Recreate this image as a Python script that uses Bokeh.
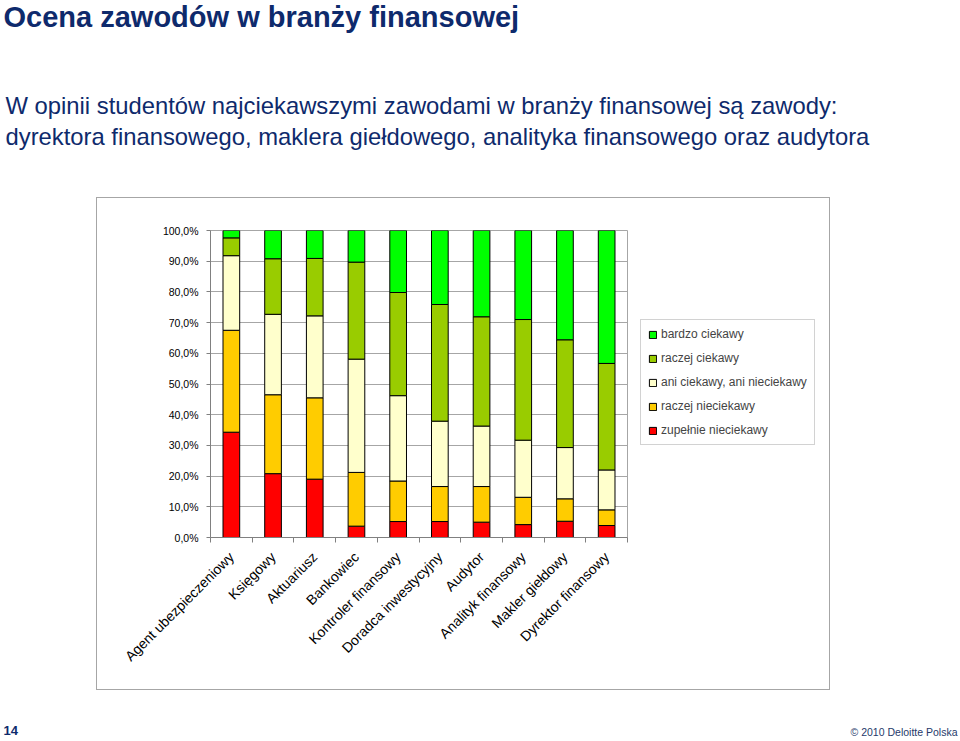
from math import pi
from bokeh.plotting import figure
from bokeh.layouts import column, row
from bokeh.models import (ColumnDataSource, FixedTicker, Label, Legend, LegendItem,
                          Range1d, Spacer)
from bokeh.embed import file_html
from bokeh.resources import INLINE

# ---------------- data ----------------
categories = ["Agent ubezpieczeniowy", "Księgowy", "Aktuariusz", "Bankowiec",
              "Kontroler finansowy", "Doradca inwestycyjny", "Audytor",
              "Analityk finansowy", "Makler giełdowy", "Dyrektor finansowy"]

zupelnie_nieciekawy = [34.3, 20.8, 19.0, 3.7, 5.2, 5.2, 5.0, 4.2, 5.3, 3.9]
raczej_nieciekawy = [33.2, 25.7, 26.5, 17.5, 13.2, 11.4, 11.6, 8.9, 7.3, 5.1]
ani_ani = [24.3, 26.2, 26.7, 36.9, 27.8, 21.3, 19.7, 18.6, 16.7, 13.0]
raczej_ciekawy = [5.8, 18.1, 18.7, 31.6, 33.6, 38.0, 35.6, 39.3, 35.1, 34.7]
bardzo_ciekawy = [2.4, 9.2, 9.1, 10.3, 20.2, 24.1, 28.1, 29.0, 35.6, 43.3]

series_labels = ["zupełnie nieciekawy", "raczej nieciekawy",
                 "ani ciekawy, ani nieciekawy", "raczej ciekawy", "bardzo ciekawy"]
series_colors = ["#FF0000", "#FFCC00", "#FFFFCC", "#99CC00", "#00FF00"]

y_tick_values = [0, 10, 20, 30, 40, 50, 60, 70, 80, 90, 100]
y_tick_labels = ["0,0%", "10,0%", "20,0%", "30,0%", "40,0%", "50,0%",
                 "60,0%", "70,0%", "80,0%", "90,0%", "100,0%"]

title_text = "Ocena zawodów w branży finansowej"
subtitle_lines = ["W opinii studentów najciekawszymi zawodami w branży finansowej są zawody:",
                  "dyrektora finansowego, maklera giełdowego, analityka finansowego oraz audytora"]
page_number = "14"
copyright_text = "© 2010 Deloitte Polska"

# ---------------- style ----------------
FONT = "Liberation Sans"
NAVY = "#0E2A6C"
GRID = "#A6A6A6"
AXIS = "#808080"


def text_canvas(width, height, y_top):
    f = figure(width=width, height=height, output_backend="svg", toolbar_location=None,
               x_range=Range1d(0, width), y_range=Range1d(y_top + height, y_top),
               x_axis_location=None, y_axis_location=None, min_border=0,
               outline_line_color=None)
    f.grid.visible = False
    return f


# ---------------- header ----------------
head = text_canvas(960, 197, 0)
head.add_layout(Label(x=3, y=16, text=title_text, text_font=FONT,
                      text_font_size="29px", text_font_style="bold",
                      text_color=NAVY, text_baseline="alphabetic"))
for i, line in enumerate(subtitle_lines):
    head.add_layout(Label(x=5, y=105 + 31 * i, text=line, text_font=FONT,
                          text_font_size="23.8px", text_color=NAVY,
                          text_baseline="alphabetic"))

# ---------------- chart ----------------
keys = ["s0", "s1", "s2", "s3", "s4"]
xs = list(range(len(categories)))
source = ColumnDataSource(dict(x=xs, s0=zupelnie_nieciekawy, s1=raczej_nieciekawy,
                               s2=ani_ani, s3=raczej_ciekawy, s4=bardzo_ciekawy))

p = figure(width=531, height=491, output_backend="svg", toolbar_location=None,
           x_range=Range1d(-0.5, len(categories) - 0.5), y_range=Range1d(0, 100),
           min_border_left=113, min_border_right=1, min_border_top=32,
           min_border_bottom=152)

p.vbar_stack(keys, x="x", width=0.4, color=series_colors,
             line_color="black", line_width=1, source=source)

p.xaxis.ticker = FixedTicker(ticks=xs, minor_ticks=[i - 0.5 for i in range(len(categories) + 1)])
p.xaxis.major_label_overrides = {i: c for i, c in zip(xs, categories)}
p.xaxis.major_label_orientation = pi / 4
p.xaxis.major_tick_line_color = None
p.xaxis.minor_tick_in = 0
p.xaxis.minor_tick_out = 5
p.xaxis.minor_tick_line_color = AXIS
p.xaxis.axis_line_color = AXIS
p.xaxis.major_label_text_font = FONT
p.xaxis.major_label_text_font_size = "14px"
p.xaxis.major_label_text_color = "black"
p.xaxis.major_label_standoff = 11

p.yaxis.ticker = FixedTicker(ticks=y_tick_values)
p.yaxis.major_label_overrides = {v: t for v, t in zip(y_tick_values, y_tick_labels)}
p.yaxis.major_tick_in = 0
p.yaxis.major_tick_out = 4
p.yaxis.minor_tick_line_color = None
p.yaxis.major_tick_line_color = AXIS
p.yaxis.axis_line_color = AXIS
p.yaxis.major_label_text_font = FONT
p.yaxis.major_label_text_font_size = "10.5px"
p.yaxis.major_label_text_color = "black"
p.yaxis.major_label_standoff = 8

p.xgrid.grid_line_color = None
p.ygrid.grid_line_color = GRID
p.outline_line_color = GRID

# ---------------- legend panel ----------------
# the same stacked series in a small copy that sits entirely under the opaque
# legend box; it only feeds the legend swatches
lf = figure(width=201, height=491, output_backend="svg", toolbar_location=None,
            x_range=Range1d(-3, 12), y_range=Range1d(-400, 600),
            x_axis_location=None, y_axis_location=None, min_border=0,
            outline_line_color=None)
lf.grid.visible = False
legend_renderers = lf.vbar_stack(keys, x="x", width=0.4, color=series_colors,
                                 line_color="black", line_width=1, source=source)
items = [LegendItem(label=lab, renderers=[r])
         for lab, r in zip(series_labels, legend_renderers)]
legend = Legend(items=list(reversed(items)), location=(12, 92),
                glyph_width=9, glyph_height=9, label_height=14, spacing=10,
                padding=7, margin=0, label_standoff=4,
                label_text_font=FONT, label_text_font_size="12px",
                border_line_color=GRID, background_fill_color="white",
                background_fill_alpha=1.0)
lf.add_layout(legend)


def hline(w):
    return Spacer(width=w, height=1, styles={"background-color": GRID})


def vline(h):
    return Spacer(width=1, height=h, styles={"background-color": GRID})


middle = row(Spacer(width=96, height=493), vline(493),
             column(hline(732), row(p, lf), hline(732)), vline(493),
             Spacer(width=130, height=493))

# ---------------- footer ----------------
foot = text_canvas(960, 51, 690)
foot.add_layout(Label(x=3, y=730, text=page_number, text_font=FONT,
                      text_font_size="13px", text_font_style="bold",
                      text_color=NAVY, text_baseline="alphabetic"))
foot.add_layout(Label(x=957, y=731, text=copyright_text, text_font=FONT,
                      text_font_size="10.5px", text_color="#263A6B",
                      text_align="right", text_baseline="alphabetic"))

page = column(head, middle, foot)
open("out.html", "w").write(file_html(page, INLINE))
